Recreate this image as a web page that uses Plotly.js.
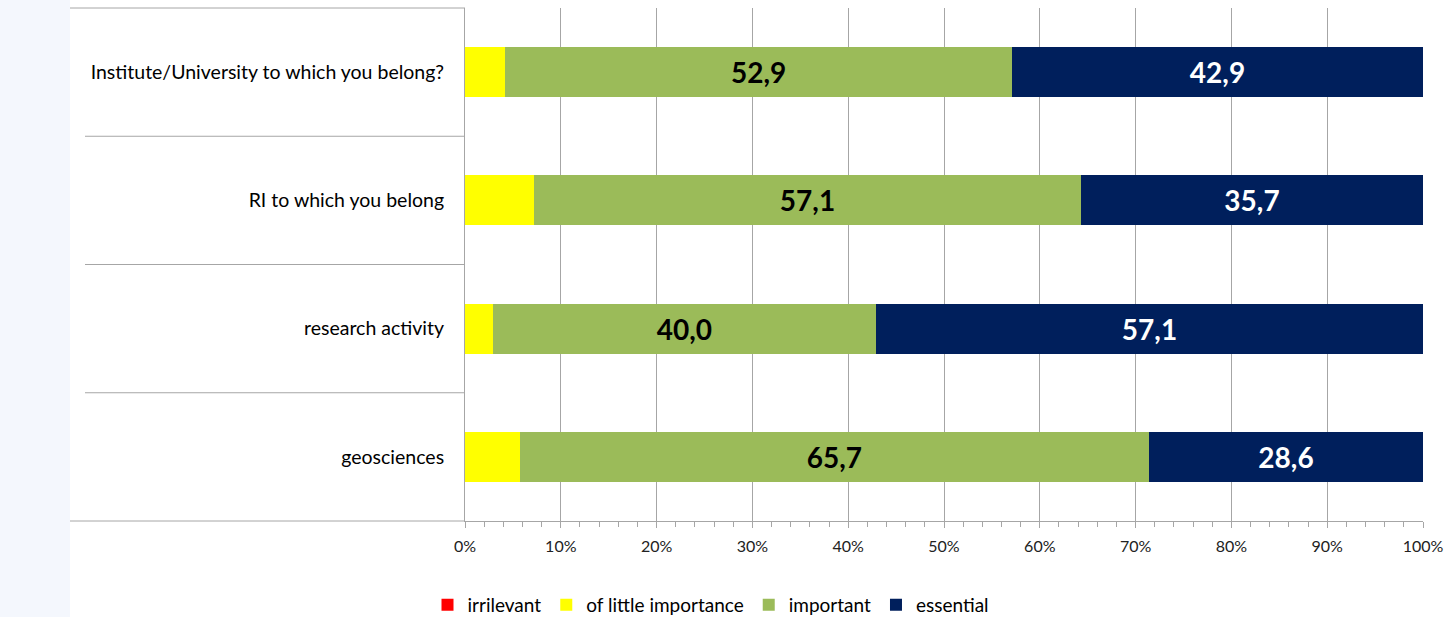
<!DOCTYPE html>
<html>
<head>
<meta charset="utf-8">
<script src="https://cdn.plot.ly/plotly-3.0.1.min.js"></script>
<style>
html,body{margin:0;padding:0;background:#fff;}
#chart{width:1451px;height:617px;}
</style>
</head>
<body>
<div id="chart"></div>
<script>
// Data
const categories = ['geosciences', 'research activity', 'RI to which you belong', 'Institute/University to which you belong?'];
const irrelevant = [0, 0, 0, 0];
const littleImportance = [5.7, 2.9, 7.2, 4.2];
const important = [65.7, 40.0, 57.1, 52.9];
const essential = [28.6, 57.1, 35.7, 42.9];
const seriesNames = ['irrilevant', 'of little importance', 'important', 'essential'];
const xTickVals = [0, 10, 20, 30, 40, 50, 60, 70, 80, 90, 100];
const xTickText = ['0%', '10%', '20%', '30%', '40%', '50%', '60%', '70%', '80%', '90%', '100%'];

const fmt = v => v.toFixed(1).replace('.', ',');
const FONT = 'Lato, "Open Sans", sans-serif';

const common = {type: 'bar', orientation: 'h', y: categories, hoverinfo: 'none'};

const traces = [
  Object.assign({}, common, {name: seriesNames[0], x: irrelevant, marker: {color: '#ff0000', line: {width: 0}}, textposition: 'none'}),
  Object.assign({}, common, {name: seriesNames[1], x: littleImportance, marker: {color: '#ffff00', line: {width: 0}}, textposition: 'none'}),
  Object.assign({}, common, {name: seriesNames[2], x: important, marker: {color: '#9bbb59', line: {width: 0}},
    text: important.map(fmt), textposition: 'inside', insidetextanchor: 'middle', textangle: 0,
    textfont: {family: FONT, size: 28, color: '#000000', weight: 'bold'}, constraintext: 'none'}),
  Object.assign({}, common, {name: seriesNames[3], x: essential, marker: {color: '#001f5c', line: {width: 0}},
    text: essential.map(fmt), textposition: 'inside', insidetextanchor: 'middle', textangle: 0,
    textfont: {family: FONT, size: 28, color: '#ffffff', weight: 'bold'}, constraintext: 'none'})
];

const W = 1451, H = 617, L = 465, R = 28, T = 8, B = 96;
const pw = W - L - R, ph = H - T - B;
const px = p => (p - L) / pw;
const py = p => (H - B - p) / ph;
const lineCol = '#a6a6a6';

const layout = {
  width: W, height: H,
  margin: {l: L, r: R, t: T, b: B, pad: 0, autoexpand: false},
  paper_bgcolor: '#ffffff', plot_bgcolor: 'rgba(0,0,0,0)',
  barmode: 'stack', bargap: 0.61,
  font: {family: FONT, size: 16, color: '#000'},
  showlegend: true,
  legend: {orientation: 'h', x: px(711), xanchor: 'center', y: py(605), yanchor: 'middle',
    traceorder: 'normal', font: {family: FONT, size: 19, color: '#000'}, itemclick: false, itemwidth: 30},
  xaxis: {range: [0, 100], tickvals: xTickVals, ticktext: xTickText, showgrid: true, gridcolor: lineCol, gridwidth: 1,
    zeroline: false, showline: true, linecolor: lineCol, linewidth: 1, ticks: 'outside', ticklen: 6, tickcolor: lineCol,
    ticklabelstandoff: 5,
    minor: {dtick: 2, ticks: 'outside', ticklen: 5, tickcolor: lineCol, showgrid: false},
    tickfont: {family: FONT, size: 16, color: '#222'}, fixedrange: true, automargin: false},
  yaxis: {categoryorder: 'array', categoryarray: categories, range: [-0.5, 3.5], showgrid: false, zeroline: false,
    showline: true, linecolor: lineCol, linewidth: 1, ticks: '', ticklabelstandoff: 16,
    tickfont: {family: FONT, size: 19.5, color: '#000'}, fixedrange: true, automargin: false},
  shapes: [
    {type: 'rect', xref: 'paper', yref: 'paper', x0: px(0), x1: px(70), y0: py(H), y1: py(0), fillcolor: '#f4f7fd', line: {width: 0}, layer: 'below'},
    {type: 'line', xref: 'paper', yref: 'paper', x0: px(70), x1: 0, y0: 1, y1: 1, line: {color: lineCol, width: 1}},
    {type: 'line', xref: 'paper', yref: 'paper', x0: px(70), x1: 0, y0: 0, y1: 0, line: {color: lineCol, width: 1}},
    {type: 'line', xref: 'paper', yref: 'y', x0: px(85), x1: 0, y0: 0.5, y1: 0.5, line: {color: lineCol, width: 1}},
    {type: 'line', xref: 'paper', yref: 'y', x0: px(85), x1: 0, y0: 1.5, y1: 1.5, line: {color: lineCol, width: 1}},
    {type: 'line', xref: 'paper', yref: 'y', x0: px(85), x1: 0, y0: 2.5, y1: 2.5, line: {color: lineCol, width: 1}}
  ]
};

Plotly.newPlot('chart', traces, layout, {displayModeBar: false, staticPlot: true});
</script>
</body>
</html>
